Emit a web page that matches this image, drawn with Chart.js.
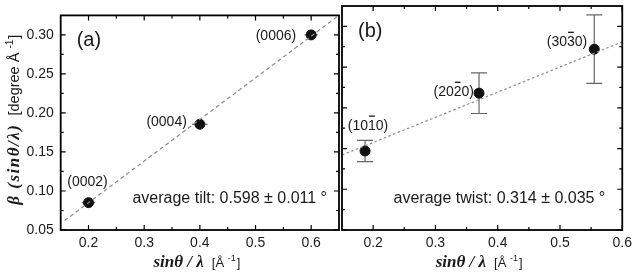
<!DOCTYPE html>
<html>
<head>
<meta charset="utf-8">
<script src="https://cdn.jsdelivr.net/npm/chart.js@4.4.1/dist/chart.umd.min.js"></script>
<style>
  html, body { margin: 0; padding: 0; background: #fff; }
  #wrap { position: relative; width: 637px; height: 272px; }
  .pane { position: absolute; top: 0; height: 272px; }
</style>
</head>
<body>
<div id="wrap">
  <div class="pane" style="left:0;width:345px"><canvas id="chartA"></canvas></div>
  <div class="pane" style="left:335px;width:302px"><canvas id="chartB"></canvas></div>
</div>
<script>
'use strict';

/* ── data: panel (a), tilt ── */
const aX = [0.2, 0.4, 0.6];
const aY = [0.085, 0.1855, 0.300];
const aXErr = [0.012, 0.014, 0.012];
const aLabels = ['(0002)', '(0004)', '(0006)'];
const aFitX = [0.157, 0.65];
const aFitY = [0.062, 0.325];

/* ── data: panel (b), twist ── */
const bX = [0.187, 0.37, 0.555];
const bY = [0.147, 0.218, 0.272];
const bYErr = [0.013, 0.025, 0.042];
const bLabels = ['(1010)', '(2020)', '(3030)'];
const bBarIndex = 3;            // overlined index digit
const bFitX = [0.15, 0.6];
const bFitY = [0.142, 0.281];

/* ── axes ── */
const xTicks = [0.2, 0.3, 0.4, 0.5, 0.6];
const xMinor = [0.25, 0.35, 0.45, 0.55];
const yTicks = [0.05, 0.10, 0.15, 0.20, 0.25, 0.30];
const yMinor = [0.075, 0.125, 0.175, 0.225, 0.275];

const SANS = '"Liberation Sans", Arial, sans-serif';
const SERIF = '"Liberation Serif", "Times New Roman", serif';
const INK = '#1a1a1a';

function pts(xs, ys) { return xs.map((x, i) => ({ x, y: ys[i] })); }

/* label placement relative to the marker, in px */
const aLabelPos = [
    { dx: -1, dy: -21, align: 'center' },
    { dx: -13, dy: -2, align: 'right' },
    { dx: -15, dy: 1, align: 'right' },
];
const bLabelPos = [
    { dx: 3, dy: -25, align: 'center' },
    { dx: -5, dy: -1, align: 'right' },
    { dx: -7, dy: -7, align: 'right' },
];

function drawIndexLabel(ctx, text, barIdx, x, y, align) {
    ctx.font = '14px ' + SANS;
    ctx.fillStyle = INK;
    ctx.textAlign = 'left';
    ctx.textBaseline = 'middle';
    const w = ctx.measureText(text).width;
    const left = align === 'right' ? x - w : align === 'center' ? x - w / 2 : x;
    ctx.fillText(text, left, y);
    if (barIdx >= 0) {
        const x0 = left + ctx.measureText(text.slice(0, barIdx)).width;
        const cw = ctx.measureText(text[barIdx]).width;
        ctx.fillRect(x0 + 1, y - 10.5, cw - 2, 1.3);
    }
}

// mixed-font axis title: serif part + "[unit Å^-1]"
function drawAxisTitle(ctx, cx, cy, rotate, serifText, unitText, serifSize, spacing, unitSize) {
    ctx.save();
    ctx.translate(cx, cy);
    if (rotate) ctx.rotate(-Math.PI / 2);
    ctx.textBaseline = 'alphabetic';
    ctx.textAlign = 'left';
    ctx.fillStyle = INK;
    const sf = 'italic bold ' + serifSize + 'px ' + SERIF;
    const uf = unitSize + 'px ' + SANS;
    const sup = Math.round(unitSize * 0.7) + 'px ' + SANS;
    ctx.letterSpacing = spacing + 'px';
    ctx.font = sf;
    const w1 = ctx.measureText(serifText).width;
    ctx.letterSpacing = '0px';
    ctx.font = uf;
    const w2 = ctx.measureText(unitText).width;
    ctx.font = sup;
    const w3 = ctx.measureText('-1').width;
    ctx.font = uf;
    const w4 = ctx.measureText(']').width;
    const gap = 8;
    const total = w1 + gap + w2 + w3 + 1 + w4;
    let x = -total / 2;
    ctx.letterSpacing = spacing + 'px';
    ctx.font = sf;
    ctx.fillText(serifText, x, 5);
    ctx.letterSpacing = '0px';
    x += w1 + gap;
    ctx.font = uf;
    ctx.fillText(unitText, x, 5);
    x += w2;
    ctx.font = sup;
    ctx.fillText('-1', x, -1);
    x += w3 + 1;
    ctx.font = uf;
    ctx.fillText(']', x, 5);
    ctx.restore();
}

function panelPlugin(p) {
    return {
        id: 'panel_' + p.tag,
        beforeDatasetsDraw(chart) {
            const { ctx, scales: { x, y } } = chart;
            ctx.save();
            ctx.strokeStyle = '#666';
            ctx.lineWidth = 1.2;
            p.px.forEach((vx, i) => {
                const cx = x.getPixelForValue(vx);
                const cy = y.getPixelForValue(p.py[i]);
                ctx.beginPath();
                if (p.xErr) {
                    ctx.moveTo(x.getPixelForValue(vx - p.xErr[i]), cy);
                    ctx.lineTo(x.getPixelForValue(vx + p.xErr[i]), cy);
                }
                if (p.yErr) {
                    const t = y.getPixelForValue(p.py[i] + p.yErr[i]);
                    const b = y.getPixelForValue(p.py[i] - p.yErr[i]);
                    ctx.moveTo(cx, t); ctx.lineTo(cx, b);
                    ctx.moveTo(cx - 8, t); ctx.lineTo(cx + 8, t);
                    ctx.moveTo(cx - 8, b); ctx.lineTo(cx + 8, b);
                }
                ctx.stroke();
            });
            ctx.restore();
        },
        afterDatasetsDraw(chart) {
            const { ctx, chartArea: a, scales: { x, y } } = chart;
            ctx.save();
            // frame
            ctx.strokeStyle = '#000';
            ctx.lineWidth = 1.8;
            ctx.strokeRect(a.left, a.top, a.right - a.left, a.bottom - a.top);
            // inward ticks on all four sides
            ctx.lineWidth = 1.2;
            ctx.beginPath();
            const xt = (v, len) => {
                const px = x.getPixelForValue(v);
                ctx.moveTo(px, a.bottom); ctx.lineTo(px, a.bottom - len);
                ctx.moveTo(px, a.top); ctx.lineTo(px, a.top + len);
            };
            const yt = (v, len) => {
                const py = y.getPixelForValue(v);
                ctx.moveTo(a.left, py); ctx.lineTo(a.left + len, py);
                ctx.moveTo(a.right, py); ctx.lineTo(a.right - len, py);
            };
            xTicks.forEach(v => xt(v, 5));
            xMinor.forEach(v => xt(v, 3));
            yTicks.forEach(v => yt(v, 5));
            yMinor.forEach(v => yt(v, 3));
            ctx.stroke();

            // point labels
            p.labels.forEach((t, i) => {
                const cx = x.getPixelForValue(p.px[i]) + p.labelPos[i].dx;
                const cy = y.getPixelForValue(p.py[i]) + p.labelPos[i].dy;
                drawIndexLabel(ctx, t, p.barIndex, cx, cy, p.labelPos[i].align);
            });

            // panel letter and fit result
            ctx.fillStyle = INK;
            ctx.textBaseline = 'middle';
            ctx.textAlign = 'left';
            ctx.font = '20px ' + SANS;
            ctx.fillText(p.letter, a.left + 16, a.top + 25);
            ctx.textAlign = 'right';
            ctx.font = '16px ' + SANS;
            ctx.fillText(p.note, a.right - p.noteRight, a.bottom - 31);
            ctx.restore();
        },
        afterDraw(chart) {
            const { ctx, chartArea: a } = chart;
            drawAxisTitle(ctx, (a.left + a.right) / 2 - 3, 262, false, 'sin\u03B8 / \u03BB', '[\u00C5 ', 17, 0, 13);
            if (p.yTitle) {
                drawAxisTitle(ctx, 14, (a.top + a.bottom) / 2 - 3, true, '\u03B2 (sin\u03B8/\u03BB)', '[degree \u00C5 ', 17, 1.5, 14.5);
            }
        },
    };
}

function makeChart(id, p) {
    const ctx = document.getElementById(id).getContext('2d');
    return new Chart(ctx, {
        type: 'scatter',
        data: {
            datasets: [
                {
                    type: 'line',
                    data: pts(p.fitX, p.fitY),
                    borderColor: '#8a8a8a',
                    borderWidth: 1.2,
                    borderDash: p.dash,
                    pointRadius: 0,
                    fill: false,
                    tension: 0,
                },
                {
                    data: pts(p.px, p.py),
                    backgroundColor: '#111',
                    borderColor: '#111',
                    pointRadius: 5,
                    pointHoverRadius: 5,
                },
            ],
        },
        options: {
            responsive: true,
            maintainAspectRatio: false,
            animation: false,
            layout: { padding: p.padding },
            plugins: { legend: { display: false }, tooltip: { enabled: false }, title: { display: false } },
            scales: {
                x: {
                    type: 'linear',
                    min: p.xMin, max: p.xMax,
                    afterBuildTicks: s => { s.ticks = xTicks.map(v => ({ value: v })); },
                    afterFit: s => { s.height = 42; },
                    grid: { display: false, drawTicks: false },
                    border: { display: false },
                    ticks: {
                        padding: 5,
                        color: INK,
                        font: { family: SANS, size: 14 },
                        callback: v => v.toFixed(1),
                        maxRotation: 0,
                    },
                },
                y: {
                    type: 'linear',
                    display: p.yTitle,
                    min: 0.05, max: 0.325,
                    afterBuildTicks: s => { s.ticks = yTicks.map(v => ({ value: v })); },
                    afterFit: s => { s.width = p.yTitle ? 60.7 : 0; },
                    grid: { display: false, drawTicks: false },
                    border: { display: false },
                    ticks: {
                        padding: 7,
                        color: INK,
                        font: { family: SANS, size: 14 },
                        callback: v => v.toFixed(2),
                    },
                },
            },
        },
        plugins: [panelPlugin(p)],
    });
}

makeChart('chartA', {
    tag: 'a', letter: '(a)', note: 'average tilt: 0.598 \u00B1 0.011 \u00B0', noteRight: 12,
    px: aX, py: aY, xErr: aXErr, labels: aLabels, labelPos: aLabelPos, barIndex: -1,
    fitX: aFitX, fitY: aFitY, dash: [4, 3],
    xMin: 0.15, xMax: 0.65, yTitle: true,
    padding: { left: 0, right: 3, top: 2.3, bottom: 0 },
});

makeChart('chartB', {
    tag: 'b', letter: '(b)', note: 'average twist: 0.314 \u00B1 0.035 \u00B0', noteRight: 17,
    px: bX, py: bY, yErr: bYErr, labels: bLabels, labelPos: bLabelPos, barIndex: bBarIndex,
    fitX: bFitX, fitY: bFitY, dash: [2.5, 2.5],
    xMin: 0.15, xMax: 0.6, yTitle: false,
    padding: { left: 7, right: 11.5, top: 2.3, bottom: 0 },
});
</script>
</body>
</html>
